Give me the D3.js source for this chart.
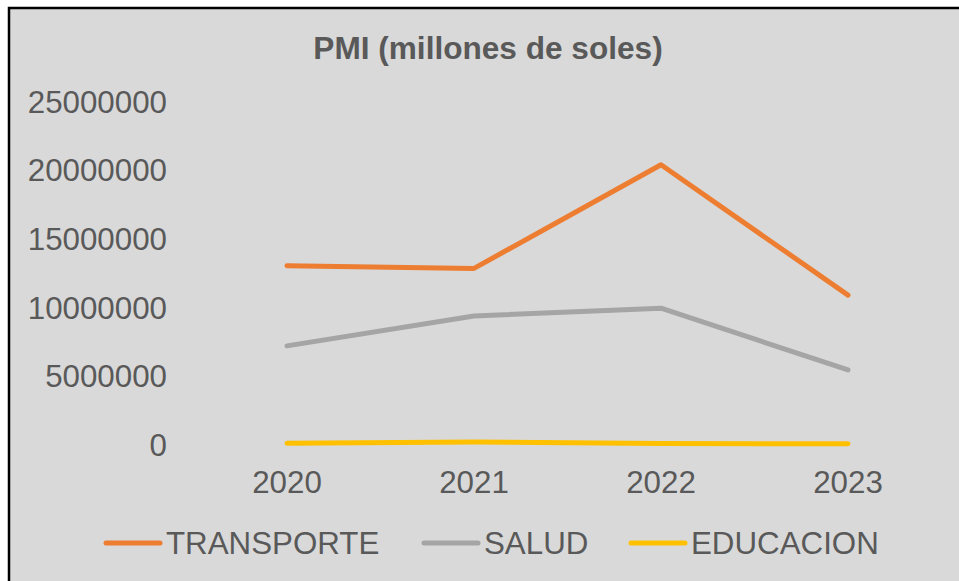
<!DOCTYPE html>
<html><head><meta charset="utf-8">
<script src="https://cdn.jsdelivr.net/npm/d3@7"></script>
<style>html,body{margin:0;padding:0;background:#fff;}svg{display:block;}</style>
</head><body>
<svg id="c" width="959" height="581"></svg>
<script>
const years = ["2020","2021","2022","2023"];
const transporte = [13000000, 12800000, 20350000, 10850000];
const salud = [7150000, 9330000, 9900000, 5400000];
const educacion = [50000, 150000, 30000, 20000];
const yTicks = [0, 5000000, 10000000, 15000000, 20000000, 25000000];
const seriesNames = ["TRANSPORTE", "SALUD", "EDUCACION"];
const seriesColors = ["#ED7D31", "#A5A5A5", "#FFC000"];
const title = "PMI (millones de soles)";

const series = [transporte, salud, educacion].map((v, i) => ({name: seriesNames[i], color: seriesColors[i], values: v}));
const svg = d3.select("#c");
const font = "'Liberation Sans', Arial, sans-serif";
const txt = "#595959";

svg.append("rect").attr("x", 9).attr("y", 8).attr("width", 980).attr("height", 600)
  .attr("fill", "#D9D9D9").attr("stroke", "#000").attr("stroke-width", 2.5);

const x = d3.scaleBand().domain(years).range([193.5, 941.5]).paddingInner(0).paddingOuter(0);
const y = d3.scaleLinear().domain([0, 25000000]).range([444, 101]);

svg.append("text").attr("x", 488).attr("y", 59).attr("text-anchor", "middle")
  .attr("font-family", font).attr("font-weight", "bold").attr("font-size", 31.6)
  .attr("fill", txt).text(title);

const ya = svg.append("g").attr("transform", "translate(170,0)")
  .call(d3.axisLeft(y).tickValues(yTicks).tickSize(0).tickPadding(3).tickFormat(d3.format("d")));
ya.select(".domain").remove();
ya.selectAll("text").attr("font-family", font).attr("font-size", 31.3).attr("fill", txt).attr("dy", "0.36em");

const xa = svg.append("g").attr("transform", "translate(0,444)")
  .call(d3.axisBottom(x).tickSize(0).tickPadding(27));
xa.select(".domain").remove();
xa.selectAll("text").attr("font-family", font).attr("font-size", 31.3).attr("fill", txt);

const line = d3.line().x((d, i) => x(years[i]) + x.bandwidth() / 2).y(d => y(d));
svg.append("g").selectAll("path").data(series).join("path")
  .attr("d", d => line(d.values)).attr("fill", "none").attr("stroke", d => d.color)
  .attr("stroke-width", 5).attr("stroke-linecap", "round").attr("stroke-linejoin", "round");

const legX = [106, 424, 631];
const lg = svg.append("g").selectAll("g").data(series).join("g")
  .attr("transform", (d, i) => `translate(${legX[i]},543)`);
lg.append("line").attr("x1", 0).attr("x2", 54).attr("y1", 0).attr("y2", 0)
  .attr("stroke", d => d.color).attr("stroke-width", 5).attr("stroke-linecap", "round");
lg.append("text").attr("x", 60).attr("y", 11).attr("font-family", font).attr("font-size", 31.3)
  .attr("fill", txt).text(d => d.name);
</script>
</body></html>
